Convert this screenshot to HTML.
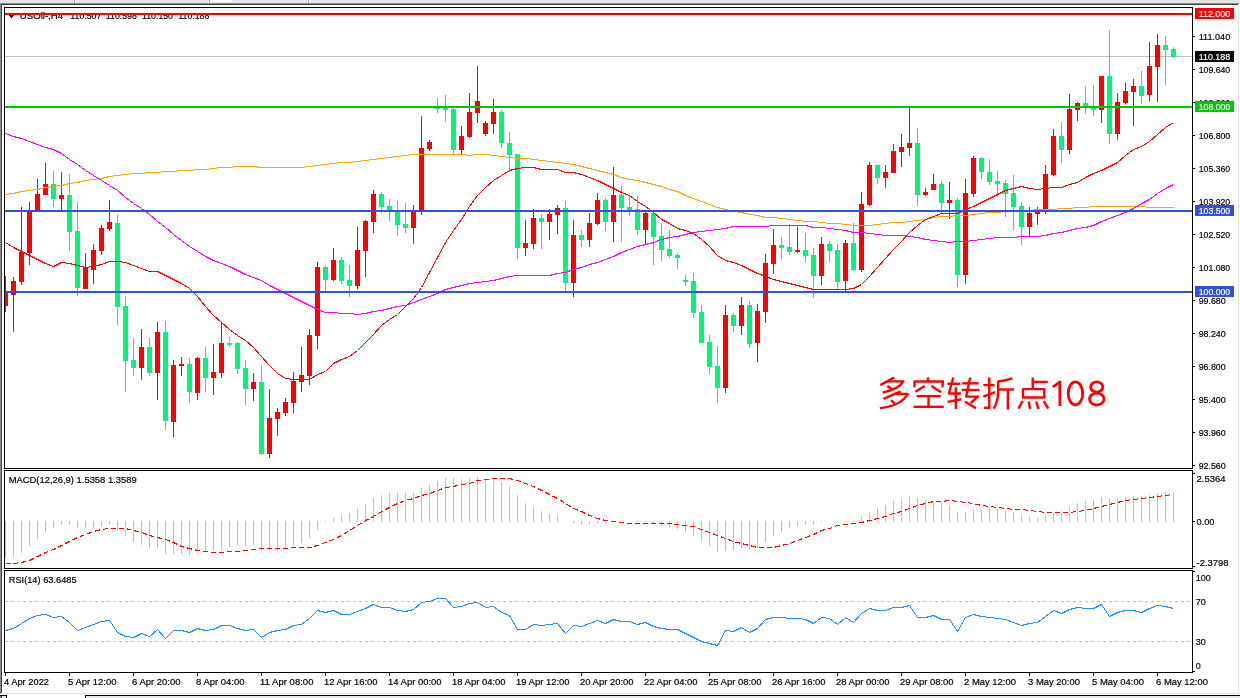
<!DOCTYPE html><html><head><meta charset="utf-8"><title>USOil H4</title>
<style>html,body{margin:0;padding:0;background:#fff;overflow:hidden}svg{display:block;will-change:transform}text{font-family:"Liberation Sans",sans-serif}</style></head><body>
<svg width="1240" height="698" viewBox="0 0 1240 698" font-family="Liberation Sans, sans-serif">
<rect width="1240" height="698" fill="#fff"/>
<g shape-rendering="crispEdges">
<rect x="0" y="0" width="1240" height="3" fill="#e5e5e5"/>
<rect x="0" y="3" width="1239" height="1" fill="#8c8c8c"/>
<rect x="1" y="4" width="1237" height="1" fill="#404040"/>
<rect x="0" y="3" width="1" height="691" fill="#8c8c8c"/>
<rect x="1" y="4" width="1" height="689" fill="#404040"/>
<rect x="1238" y="5" width="1" height="689" fill="#e4e4e4"/>
<rect x="2" y="693" width="1237" height="1" fill="#e4e4e4"/>
<rect x="85" y="696" width="1155" height="2" fill="#e8e8e8"/>
<rect x="85" y="695" width="1155" height="1" fill="#000"/>
<rect x="85" y="695" width="1" height="3" fill="#000"/>
<rect x="0" y="695" width="7" height="1" fill="#000"/>
<rect x="6" y="695" width="1" height="3" fill="#000"/>
<rect x="2" y="696" width="4" height="2" fill="#e8e8e8"/>
<rect x="0" y="696" width="1" height="2" fill="#8c8c8c"/>
<rect x="1" y="696" width="1" height="2" fill="#404040"/>
<rect x="74" y="0" width="1" height="3" fill="#a0a0a0"/>
<rect x="75" y="0" width="1" height="3" fill="#ffffff"/>
<rect x="308" y="0" width="1" height="3" fill="#a0a0a0"/>
<rect x="309" y="0" width="1" height="3" fill="#ffffff"/>
<rect x="209" y="0" width="1" height="2" fill="#a0a0a0"/>
<rect x="210" y="0" width="22" height="2" fill="#ffffff"/>
</g>
<g shape-rendering="crispEdges">
<rect x="5" y="56" width="1187" height="1" fill="#c0c0c0"/>
</g>
<g fill="#000" font-size="9.9px" stroke="#000" stroke-width="0.2">
<path d="M7.5 13.5 L15.5 13.5 L11.5 18.5 Z" fill="#000" stroke="none"/>
<text x="19.8" y="18.9" textLength="43.3" lengthAdjust="spacingAndGlyphs">USOil-,H4</text>
<text x="70.3" y="18.9" textLength="31" lengthAdjust="spacingAndGlyphs">110.507</text>
<text x="105.8" y="18.9" textLength="31" lengthAdjust="spacingAndGlyphs">110.598</text>
<text x="142" y="18.9" textLength="31" lengthAdjust="spacingAndGlyphs">110.150</text>
<text x="178.3" y="18.9" textLength="31" lengthAdjust="spacingAndGlyphs">110.188</text>
</g>
<g shape-rendering="crispEdges">
<rect x="5" y="276" width="1" height="36" fill="#FF0000"/>
<rect x="5" y="293" width="3" height="13" fill="#FF0000"/>
<rect x="13" y="277" width="1" height="55" fill="#FF0000"/>
<rect x="11" y="281" width="5" height="14" fill="#FF0000"/>
<rect x="21" y="207" width="1" height="78" fill="#FF0000"/>
<rect x="19" y="252" width="5" height="30" fill="#FF0000"/>
<rect x="29" y="202" width="1" height="63" fill="#FF0000"/>
<rect x="27" y="211" width="5" height="42" fill="#FF0000"/>
<rect x="37" y="179" width="1" height="32" fill="#FF0000"/>
<rect x="35" y="194" width="5" height="17" fill="#FF0000"/>
<rect x="45" y="163" width="1" height="32" fill="#FF0000"/>
<rect x="43" y="184" width="5" height="11" fill="#FF0000"/>
<rect x="53" y="171" width="1" height="36" fill="#00F57A"/>
<rect x="51" y="184" width="5" height="15" fill="#00F57A"/>
<rect x="61" y="172" width="1" height="39" fill="#FF0000"/>
<rect x="59" y="195" width="5" height="4" fill="#FF0000"/>
<rect x="69" y="174" width="1" height="77" fill="#00F57A"/>
<rect x="67" y="195" width="5" height="37" fill="#00F57A"/>
<rect x="77" y="202" width="1" height="94" fill="#00F57A"/>
<rect x="75" y="231" width="5" height="57" fill="#00F57A"/>
<rect x="85" y="253" width="1" height="36" fill="#FF0000"/>
<rect x="83" y="268" width="5" height="21" fill="#FF0000"/>
<rect x="93" y="244" width="1" height="40" fill="#FF0000"/>
<rect x="91" y="250" width="5" height="20" fill="#FF0000"/>
<rect x="101" y="225" width="1" height="30" fill="#FF0000"/>
<rect x="99" y="228" width="5" height="23" fill="#FF0000"/>
<rect x="109" y="200" width="1" height="31" fill="#FF0000"/>
<rect x="107" y="222" width="5" height="7" fill="#FF0000"/>
<rect x="117" y="215" width="1" height="110" fill="#00F57A"/>
<rect x="115" y="223" width="5" height="84" fill="#00F57A"/>
<rect x="125" y="296" width="1" height="96" fill="#00F57A"/>
<rect x="123" y="306" width="5" height="55" fill="#00F57A"/>
<rect x="133" y="338" width="1" height="38" fill="#00F57A"/>
<rect x="131" y="360" width="5" height="8" fill="#00F57A"/>
<rect x="141" y="329" width="1" height="51" fill="#FF0000"/>
<rect x="139" y="347" width="5" height="21" fill="#FF0000"/>
<rect x="149" y="338" width="1" height="38" fill="#00F57A"/>
<rect x="147" y="347" width="5" height="26" fill="#00F57A"/>
<rect x="157" y="322" width="1" height="78" fill="#FF0000"/>
<rect x="155" y="332" width="5" height="41" fill="#FF0000"/>
<rect x="165" y="321" width="1" height="109" fill="#00F57A"/>
<rect x="163" y="332" width="5" height="89" fill="#00F57A"/>
<rect x="173" y="360" width="1" height="77" fill="#FF0000"/>
<rect x="171" y="365" width="5" height="57" fill="#FF0000"/>
<rect x="181" y="357" width="1" height="19" fill="#FF0000"/>
<rect x="179" y="364" width="5" height="2" fill="#FF0000"/>
<rect x="189" y="358" width="1" height="45" fill="#00F57A"/>
<rect x="187" y="364" width="5" height="28" fill="#00F57A"/>
<rect x="197" y="357" width="1" height="43" fill="#FF0000"/>
<rect x="195" y="358" width="5" height="35" fill="#FF0000"/>
<rect x="205" y="347" width="1" height="45" fill="#00F57A"/>
<rect x="203" y="358" width="5" height="20" fill="#00F57A"/>
<rect x="213" y="344" width="1" height="51" fill="#FF0000"/>
<rect x="211" y="372" width="5" height="6" fill="#FF0000"/>
<rect x="221" y="323" width="1" height="55" fill="#FF0000"/>
<rect x="219" y="343" width="5" height="30" fill="#FF0000"/>
<rect x="229" y="337" width="1" height="10" fill="#00F57A"/>
<rect x="227" y="343" width="5" height="2" fill="#00F57A"/>
<rect x="237" y="342" width="1" height="32" fill="#00F57A"/>
<rect x="235" y="343" width="5" height="26" fill="#00F57A"/>
<rect x="245" y="360" width="1" height="45" fill="#00F57A"/>
<rect x="243" y="368" width="5" height="21" fill="#00F57A"/>
<rect x="253" y="373" width="1" height="28" fill="#FF0000"/>
<rect x="251" y="382" width="5" height="7" fill="#FF0000"/>
<rect x="261" y="365" width="1" height="90" fill="#00F57A"/>
<rect x="259" y="382" width="5" height="72" fill="#00F57A"/>
<rect x="269" y="389" width="1" height="69" fill="#FF0000"/>
<rect x="267" y="418" width="5" height="36" fill="#FF0000"/>
<rect x="277" y="408" width="1" height="28" fill="#FF0000"/>
<rect x="275" y="412" width="5" height="7" fill="#FF0000"/>
<rect x="285" y="398" width="1" height="18" fill="#FF0000"/>
<rect x="283" y="402" width="5" height="11" fill="#FF0000"/>
<rect x="293" y="372" width="1" height="41" fill="#FF0000"/>
<rect x="291" y="381" width="5" height="22" fill="#FF0000"/>
<rect x="301" y="347" width="1" height="45" fill="#FF0000"/>
<rect x="299" y="375" width="5" height="7" fill="#FF0000"/>
<rect x="309" y="329" width="1" height="56" fill="#FF0000"/>
<rect x="307" y="335" width="5" height="41" fill="#FF0000"/>
<rect x="317" y="262" width="1" height="87" fill="#FF0000"/>
<rect x="315" y="267" width="5" height="69" fill="#FF0000"/>
<rect x="325" y="265" width="1" height="26" fill="#00F57A"/>
<rect x="323" y="267" width="5" height="13" fill="#00F57A"/>
<rect x="333" y="248" width="1" height="33" fill="#FF0000"/>
<rect x="331" y="260" width="5" height="20" fill="#FF0000"/>
<rect x="341" y="257" width="1" height="27" fill="#00F57A"/>
<rect x="339" y="260" width="5" height="21" fill="#00F57A"/>
<rect x="349" y="265" width="1" height="32" fill="#00F57A"/>
<rect x="347" y="280" width="5" height="6" fill="#00F57A"/>
<rect x="357" y="227" width="1" height="62" fill="#FF0000"/>
<rect x="355" y="250" width="5" height="36" fill="#FF0000"/>
<rect x="365" y="220" width="1" height="57" fill="#FF0000"/>
<rect x="363" y="221" width="5" height="30" fill="#FF0000"/>
<rect x="373" y="190" width="1" height="43" fill="#FF0000"/>
<rect x="371" y="194" width="5" height="28" fill="#FF0000"/>
<rect x="381" y="192" width="1" height="21" fill="#00F57A"/>
<rect x="379" y="194" width="5" height="13" fill="#00F57A"/>
<rect x="389" y="199" width="1" height="22" fill="#00F57A"/>
<rect x="387" y="206" width="5" height="4" fill="#00F57A"/>
<rect x="397" y="201" width="1" height="35" fill="#00F57A"/>
<rect x="395" y="212" width="5" height="13" fill="#00F57A"/>
<rect x="405" y="203" width="1" height="30" fill="#00F57A"/>
<rect x="403" y="224" width="5" height="4" fill="#00F57A"/>
<rect x="413" y="205" width="1" height="39" fill="#FF0000"/>
<rect x="411" y="211" width="5" height="17" fill="#FF0000"/>
<rect x="421" y="116" width="1" height="99" fill="#FF0000"/>
<rect x="419" y="148" width="5" height="62" fill="#FF0000"/>
<rect x="429" y="140" width="1" height="11" fill="#FF0000"/>
<rect x="427" y="142" width="5" height="7" fill="#FF0000"/>
<rect x="437" y="98" width="1" height="15" fill="#00F57A"/>
<rect x="435" y="107" width="5" height="2" fill="#00F57A"/>
<rect x="445" y="95" width="1" height="27" fill="#00F57A"/>
<rect x="443" y="107" width="5" height="3" fill="#00F57A"/>
<rect x="453" y="106" width="1" height="48" fill="#00F57A"/>
<rect x="451" y="109" width="5" height="41" fill="#00F57A"/>
<rect x="461" y="126" width="1" height="28" fill="#FF0000"/>
<rect x="459" y="136" width="5" height="14" fill="#FF0000"/>
<rect x="469" y="93" width="1" height="45" fill="#FF0000"/>
<rect x="467" y="112" width="5" height="25" fill="#FF0000"/>
<rect x="477" y="66" width="1" height="57" fill="#FF0000"/>
<rect x="475" y="101" width="5" height="12" fill="#FF0000"/>
<rect x="485" y="121" width="1" height="15" fill="#FF0000"/>
<rect x="483" y="123" width="5" height="11" fill="#FF0000"/>
<rect x="493" y="99" width="1" height="35" fill="#FF0000"/>
<rect x="491" y="112" width="5" height="12" fill="#FF0000"/>
<rect x="501" y="110" width="1" height="38" fill="#00F57A"/>
<rect x="499" y="112" width="5" height="31" fill="#00F57A"/>
<rect x="509" y="132" width="1" height="40" fill="#00F57A"/>
<rect x="507" y="143" width="5" height="12" fill="#00F57A"/>
<rect x="517" y="154" width="1" height="105" fill="#00F57A"/>
<rect x="515" y="154" width="5" height="94" fill="#00F57A"/>
<rect x="525" y="220" width="1" height="36" fill="#FF0000"/>
<rect x="523" y="243" width="5" height="5" fill="#FF0000"/>
<rect x="533" y="209" width="1" height="40" fill="#FF0000"/>
<rect x="531" y="218" width="5" height="26" fill="#FF0000"/>
<rect x="541" y="214" width="1" height="35" fill="#00F57A"/>
<rect x="539" y="218" width="5" height="4" fill="#00F57A"/>
<rect x="549" y="209" width="1" height="31" fill="#FF0000"/>
<rect x="547" y="214" width="5" height="8" fill="#FF0000"/>
<rect x="557" y="205" width="1" height="29" fill="#FF0000"/>
<rect x="555" y="208" width="5" height="7" fill="#FF0000"/>
<rect x="565" y="201" width="1" height="90" fill="#00F57A"/>
<rect x="563" y="208" width="5" height="75" fill="#00F57A"/>
<rect x="573" y="220" width="1" height="77" fill="#FF0000"/>
<rect x="571" y="235" width="5" height="48" fill="#FF0000"/>
<rect x="581" y="230" width="1" height="17" fill="#00F57A"/>
<rect x="579" y="235" width="5" height="5" fill="#00F57A"/>
<rect x="589" y="213" width="1" height="34" fill="#FF0000"/>
<rect x="587" y="223" width="5" height="17" fill="#FF0000"/>
<rect x="597" y="193" width="1" height="32" fill="#FF0000"/>
<rect x="595" y="200" width="5" height="24" fill="#FF0000"/>
<rect x="605" y="198" width="1" height="33" fill="#00F57A"/>
<rect x="603" y="200" width="5" height="22" fill="#00F57A"/>
<rect x="613" y="167" width="1" height="75" fill="#FF0000"/>
<rect x="611" y="195" width="5" height="27" fill="#FF0000"/>
<rect x="621" y="186" width="1" height="56" fill="#00F57A"/>
<rect x="619" y="195" width="5" height="13" fill="#00F57A"/>
<rect x="629" y="195" width="1" height="21" fill="#00F57A"/>
<rect x="627" y="207" width="5" height="4" fill="#00F57A"/>
<rect x="637" y="196" width="1" height="39" fill="#00F57A"/>
<rect x="635" y="209" width="5" height="21" fill="#00F57A"/>
<rect x="645" y="211" width="1" height="33" fill="#FF0000"/>
<rect x="643" y="213" width="5" height="17" fill="#FF0000"/>
<rect x="653" y="211" width="1" height="54" fill="#00F57A"/>
<rect x="651" y="213" width="5" height="24" fill="#00F57A"/>
<rect x="661" y="223" width="1" height="38" fill="#00F57A"/>
<rect x="659" y="236" width="5" height="14" fill="#00F57A"/>
<rect x="669" y="230" width="1" height="28" fill="#00F57A"/>
<rect x="667" y="249" width="5" height="7" fill="#00F57A"/>
<rect x="677" y="253" width="1" height="16" fill="#00F57A"/>
<rect x="675" y="255" width="5" height="3" fill="#00F57A"/>
<rect x="685" y="275" width="1" height="11" fill="#00F57A"/>
<rect x="683" y="280" width="5" height="2" fill="#00F57A"/>
<rect x="693" y="273" width="1" height="45" fill="#00F57A"/>
<rect x="691" y="281" width="5" height="32" fill="#00F57A"/>
<rect x="701" y="305" width="1" height="38" fill="#00F57A"/>
<rect x="699" y="312" width="5" height="31" fill="#00F57A"/>
<rect x="709" y="335" width="1" height="39" fill="#00F57A"/>
<rect x="707" y="342" width="5" height="25" fill="#00F57A"/>
<rect x="717" y="346" width="1" height="57" fill="#00F57A"/>
<rect x="715" y="366" width="5" height="22" fill="#00F57A"/>
<rect x="725" y="305" width="1" height="88" fill="#FF0000"/>
<rect x="723" y="315" width="5" height="73" fill="#FF0000"/>
<rect x="733" y="313" width="1" height="19" fill="#00F57A"/>
<rect x="731" y="315" width="5" height="11" fill="#00F57A"/>
<rect x="741" y="297" width="1" height="38" fill="#FF0000"/>
<rect x="739" y="305" width="5" height="21" fill="#FF0000"/>
<rect x="749" y="301" width="1" height="47" fill="#00F57A"/>
<rect x="747" y="305" width="5" height="39" fill="#00F57A"/>
<rect x="757" y="304" width="1" height="58" fill="#FF0000"/>
<rect x="755" y="311" width="5" height="32" fill="#FF0000"/>
<rect x="765" y="254" width="1" height="69" fill="#FF0000"/>
<rect x="763" y="263" width="5" height="49" fill="#FF0000"/>
<rect x="773" y="229" width="1" height="45" fill="#FF0000"/>
<rect x="771" y="245" width="5" height="19" fill="#FF0000"/>
<rect x="781" y="237" width="1" height="22" fill="#00F57A"/>
<rect x="779" y="245" width="5" height="3" fill="#00F57A"/>
<rect x="789" y="224" width="1" height="31" fill="#00F57A"/>
<rect x="787" y="247" width="5" height="5" fill="#00F57A"/>
<rect x="797" y="227" width="1" height="26" fill="#FF0000"/>
<rect x="795" y="250" width="5" height="2" fill="#FF0000"/>
<rect x="805" y="233" width="1" height="29" fill="#00F57A"/>
<rect x="803" y="250" width="5" height="6" fill="#00F57A"/>
<rect x="813" y="248" width="1" height="50" fill="#00F57A"/>
<rect x="811" y="255" width="5" height="21" fill="#00F57A"/>
<rect x="821" y="237" width="1" height="48" fill="#FF0000"/>
<rect x="819" y="244" width="5" height="32" fill="#FF0000"/>
<rect x="829" y="241" width="1" height="21" fill="#00F57A"/>
<rect x="827" y="244" width="5" height="7" fill="#00F57A"/>
<rect x="837" y="244" width="1" height="46" fill="#00F57A"/>
<rect x="835" y="250" width="5" height="32" fill="#00F57A"/>
<rect x="845" y="240" width="1" height="52" fill="#FF0000"/>
<rect x="843" y="243" width="5" height="38" fill="#FF0000"/>
<rect x="853" y="223" width="1" height="48" fill="#00F57A"/>
<rect x="851" y="243" width="5" height="27" fill="#00F57A"/>
<rect x="861" y="192" width="1" height="80" fill="#FF0000"/>
<rect x="859" y="204" width="5" height="66" fill="#FF0000"/>
<rect x="869" y="162" width="1" height="44" fill="#FF0000"/>
<rect x="867" y="165" width="5" height="40" fill="#FF0000"/>
<rect x="877" y="165" width="1" height="19" fill="#00F57A"/>
<rect x="875" y="165" width="5" height="13" fill="#00F57A"/>
<rect x="885" y="165" width="1" height="23" fill="#FF0000"/>
<rect x="883" y="172" width="5" height="6" fill="#FF0000"/>
<rect x="893" y="144" width="1" height="29" fill="#FF0000"/>
<rect x="891" y="151" width="5" height="22" fill="#FF0000"/>
<rect x="901" y="134" width="1" height="33" fill="#FF0000"/>
<rect x="899" y="147" width="5" height="5" fill="#FF0000"/>
<rect x="909" y="107" width="1" height="49" fill="#FF0000"/>
<rect x="907" y="143" width="5" height="5" fill="#FF0000"/>
<rect x="917" y="128" width="1" height="78" fill="#00F57A"/>
<rect x="915" y="143" width="5" height="52" fill="#00F57A"/>
<rect x="925" y="188" width="1" height="8" fill="#FF0000"/>
<rect x="923" y="192" width="5" height="3" fill="#FF0000"/>
<rect x="933" y="174" width="1" height="16" fill="#FF0000"/>
<rect x="931" y="184" width="5" height="6" fill="#FF0000"/>
<rect x="941" y="181" width="1" height="33" fill="#00F57A"/>
<rect x="939" y="184" width="5" height="19" fill="#00F57A"/>
<rect x="949" y="182" width="1" height="37" fill="#FF0000"/>
<rect x="947" y="200" width="5" height="3" fill="#FF0000"/>
<rect x="957" y="198" width="1" height="89" fill="#00F57A"/>
<rect x="955" y="200" width="5" height="75" fill="#00F57A"/>
<rect x="965" y="179" width="1" height="105" fill="#FF0000"/>
<rect x="963" y="193" width="5" height="82" fill="#FF0000"/>
<rect x="973" y="156" width="1" height="41" fill="#FF0000"/>
<rect x="971" y="158" width="5" height="36" fill="#FF0000"/>
<rect x="981" y="157" width="1" height="22" fill="#00F57A"/>
<rect x="979" y="158" width="5" height="14" fill="#00F57A"/>
<rect x="989" y="159" width="1" height="26" fill="#00F57A"/>
<rect x="987" y="172" width="5" height="10" fill="#00F57A"/>
<rect x="997" y="171" width="1" height="26" fill="#00F57A"/>
<rect x="995" y="181" width="5" height="3" fill="#00F57A"/>
<rect x="1005" y="180" width="1" height="37" fill="#00F57A"/>
<rect x="1003" y="183" width="5" height="11" fill="#00F57A"/>
<rect x="1013" y="175" width="1" height="55" fill="#00F57A"/>
<rect x="1011" y="193" width="5" height="14" fill="#00F57A"/>
<rect x="1021" y="202" width="1" height="43" fill="#00F57A"/>
<rect x="1019" y="206" width="5" height="21" fill="#00F57A"/>
<rect x="1029" y="207" width="1" height="29" fill="#FF0000"/>
<rect x="1027" y="213" width="5" height="14" fill="#FF0000"/>
<rect x="1037" y="207" width="1" height="18" fill="#FF0000"/>
<rect x="1035" y="212" width="5" height="2" fill="#FF0000"/>
<rect x="1045" y="165" width="1" height="49" fill="#FF0000"/>
<rect x="1043" y="174" width="5" height="37" fill="#FF0000"/>
<rect x="1053" y="129" width="1" height="47" fill="#FF0000"/>
<rect x="1051" y="136" width="5" height="39" fill="#FF0000"/>
<rect x="1061" y="122" width="1" height="41" fill="#00F57A"/>
<rect x="1059" y="136" width="5" height="14" fill="#00F57A"/>
<rect x="1069" y="94" width="1" height="60" fill="#FF0000"/>
<rect x="1067" y="109" width="5" height="41" fill="#FF0000"/>
<rect x="1077" y="102" width="1" height="19" fill="#FF0000"/>
<rect x="1075" y="103" width="5" height="7" fill="#FF0000"/>
<rect x="1085" y="86" width="1" height="28" fill="#00F57A"/>
<rect x="1083" y="103" width="5" height="4" fill="#00F57A"/>
<rect x="1093" y="85" width="1" height="31" fill="#00F57A"/>
<rect x="1091" y="107" width="5" height="3" fill="#00F57A"/>
<rect x="1101" y="76" width="1" height="47" fill="#FF0000"/>
<rect x="1099" y="76" width="5" height="34" fill="#FF0000"/>
<rect x="1109" y="30" width="1" height="114" fill="#00F57A"/>
<rect x="1107" y="76" width="5" height="58" fill="#00F57A"/>
<rect x="1117" y="93" width="1" height="47" fill="#FF0000"/>
<rect x="1115" y="102" width="5" height="32" fill="#FF0000"/>
<rect x="1125" y="83" width="1" height="21" fill="#FF0000"/>
<rect x="1123" y="91" width="5" height="12" fill="#FF0000"/>
<rect x="1133" y="79" width="1" height="47" fill="#FF0000"/>
<rect x="1131" y="86" width="5" height="6" fill="#FF0000"/>
<rect x="1141" y="71" width="1" height="33" fill="#00F57A"/>
<rect x="1139" y="86" width="5" height="10" fill="#00F57A"/>
<rect x="1149" y="42" width="1" height="59" fill="#FF0000"/>
<rect x="1147" y="66" width="5" height="29" fill="#FF0000"/>
<rect x="1157" y="34" width="1" height="68" fill="#FF0000"/>
<rect x="1155" y="45" width="5" height="22" fill="#FF0000"/>
<rect x="1165" y="36" width="1" height="49" fill="#00F57A"/>
<rect x="1163" y="45" width="5" height="5" fill="#00F57A"/>
<rect x="1173" y="47" width="1" height="11" fill="#00F57A"/>
<rect x="1171" y="49" width="5" height="8" fill="#00F57A"/>
</g>
<g shape-rendering="crispEdges">
<polyline points="5.5,194.5 13.5,193.5 21.5,191.5 29.5,190.5 37.5,189.5 45.5,187.5 53.5,186.5 61.5,185.5 69.5,183.5 77.5,182.5 85.5,180.5 93.5,179.5 101.5,178.5 109.5,176.5 117.5,175.5 125.5,174.5 133.5,173.5 141.5,173.5 149.5,172.5 157.5,172.5 165.5,171.5 173.5,171.5 181.5,170.5 189.5,170.5 197.5,169.5 205.5,169.5 213.5,168.5 221.5,167.5 229.5,167.5 237.5,166.5 245.5,166.5 253.5,166.5 261.5,167.5 269.5,167.5 277.5,167.5 285.5,167.5 293.5,167.5 301.5,167.5 309.5,166.5 317.5,165.5 325.5,164.5 333.5,163.5 341.5,162.5 349.5,162.5 357.5,161.5 365.5,160.5 373.5,159.5 381.5,158.5 389.5,157.5 397.5,156.5 405.5,155.5 413.5,154.5 421.5,154.5 429.5,154.5 437.5,154.5 445.5,154.5 453.5,154.5 461.5,154.5 469.5,155.5 477.5,154.5 485.5,154.5 493.5,155.5 501.5,156.5 509.5,157.5 517.5,158.5 525.5,158.5 533.5,159.5 541.5,160.5 549.5,161.5 557.5,162.5 565.5,163.5 573.5,164.5 581.5,166.5 589.5,168.5 597.5,170.5 605.5,172.5 613.5,174.5 621.5,177.5 629.5,179.5 637.5,180.5 645.5,182.5 653.5,184.5 661.5,186.5 669.5,189.5 677.5,191.5 685.5,195.5 693.5,198.5 701.5,201.5 709.5,204.5 717.5,207.5 725.5,209.5 733.5,211.5 741.5,212.5 749.5,214.5 757.5,215.5 765.5,217.5 773.5,217.5 781.5,218.5 789.5,219.5 797.5,220.5 805.5,221.5 813.5,221.5 821.5,222.5 829.5,223.5 837.5,223.5 845.5,224.5 853.5,225.5 861.5,225.5 869.5,225.5 877.5,224.5 885.5,223.5 893.5,222.5 901.5,222.5 909.5,221.5 917.5,220.5 925.5,219.5 933.5,217.5 941.5,216.5 949.5,216.5 957.5,215.5 965.5,215.5 973.5,214.5 981.5,213.5 989.5,212.5 997.5,212.5 1005.5,211.5 1013.5,211.5 1021.5,210.5 1029.5,210.5 1037.5,209.5 1045.5,209.5 1053.5,209.5 1061.5,208.5 1069.5,208.5 1077.5,207.5 1085.5,207.5 1093.5,206.5 1101.5,206.5 1109.5,206.5 1117.5,206.5 1125.5,206.5 1133.5,206.5 1141.5,206.5 1149.5,207.5 1157.5,207.5 1165.5,207.5 1173.5,207.5" fill="none" stroke="#FFA500" stroke-width="1" />
<polyline points="5.5,133.5 13.5,136.5 21.5,138.5 29.5,141.5 37.5,144.5 45.5,147.5 53.5,149.5 61.5,153.5 69.5,159.5 77.5,164.5 85.5,170.5 93.5,175.5 101.5,180.5 109.5,185.5 117.5,190.5 125.5,197.5 133.5,203.5 141.5,208.5 149.5,214.5 157.5,221.5 165.5,227.5 173.5,234.5 181.5,240.5 189.5,246.5 197.5,251.5 205.5,256.5 213.5,260.5 221.5,263.5 229.5,266.5 237.5,270.5 245.5,274.5 253.5,277.5 261.5,280.5 269.5,285.5 277.5,289.5 285.5,293.5 293.5,297.5 301.5,301.5 309.5,305.5 317.5,309.5 325.5,312.5 333.5,312.5 341.5,313.5 349.5,313.5 357.5,314.5 365.5,313.5 373.5,311.5 381.5,310.5 389.5,308.5 397.5,306.5 405.5,305.5 413.5,302.5 421.5,299.5 429.5,296.5 437.5,293.5 445.5,289.5 453.5,287.5 461.5,285.5 469.5,283.5 477.5,282.5 485.5,281.5 493.5,280.5 501.5,278.5 509.5,276.5 517.5,275.5 525.5,275.5 533.5,275.5 541.5,275.5 549.5,275.5 557.5,273.5 565.5,272.5 573.5,269.5 581.5,267.5 589.5,264.5 597.5,262.5 605.5,259.5 613.5,256.5 621.5,252.5 629.5,249.5 637.5,246.5 645.5,244.5 653.5,242.5 661.5,239.5 669.5,237.5 677.5,236.5 685.5,234.5 693.5,232.5 701.5,231.5 709.5,230.5 717.5,229.5 725.5,228.5 733.5,226.5 741.5,226.5 749.5,226.5 757.5,226.5 765.5,226.5 773.5,225.5 781.5,225.5 789.5,225.5 797.5,225.5 805.5,225.5 813.5,227.5 821.5,227.5 829.5,228.5 837.5,229.5 845.5,230.5 853.5,232.5 861.5,232.5 869.5,233.5 877.5,234.5 885.5,235.5 893.5,235.5 901.5,235.5 909.5,236.5 917.5,237.5 925.5,239.5 933.5,240.5 941.5,241.5 949.5,242.5 957.5,241.5 965.5,241.5 973.5,240.5 981.5,239.5 989.5,238.5 997.5,237.5 1005.5,237.5 1013.5,237.5 1021.5,236.5 1029.5,236.5 1037.5,236.5 1045.5,235.5 1053.5,233.5 1061.5,232.5 1069.5,230.5 1077.5,228.5 1085.5,227.5 1093.5,225.5 1101.5,221.5 1109.5,218.5 1117.5,215.5 1125.5,212.5 1133.5,208.5 1141.5,203.5 1149.5,199.5 1157.5,193.5 1165.5,188.5 1173.5,184.5" fill="none" stroke="#FF00FF" stroke-width="1" />
<polyline points="5.5,242.5 13.5,247.5 21.5,251.5 29.5,255.5 37.5,259.5 45.5,263.5 53.5,266.5 61.5,262.5 69.5,263.5 77.5,265.5 85.5,267.5 93.5,266.5 101.5,264.5 109.5,261.5 117.5,261.5 125.5,262.5 133.5,265.5 141.5,268.5 149.5,271.5 157.5,271.5 165.5,275.5 173.5,279.5 181.5,283.5 189.5,288.5 197.5,296.5 205.5,306.5 213.5,315.5 221.5,322.5 229.5,329.5 237.5,335.5 245.5,340.5 253.5,347.5 261.5,356.5 269.5,365.5 277.5,373.5 285.5,378.5 293.5,379.5 301.5,379.5 309.5,379.5 317.5,374.5 325.5,371.5 333.5,363.5 341.5,359.5 349.5,356.5 357.5,350.5 365.5,342.5 373.5,334.5 381.5,325.5 389.5,319.5 397.5,314.5 405.5,306.5 413.5,298.5 421.5,287.5 429.5,272.5 437.5,257.5 445.5,242.5 453.5,230.5 461.5,219.5 469.5,206.5 477.5,195.5 485.5,187.5 493.5,180.5 501.5,175.5 509.5,170.5 517.5,168.5 525.5,167.5 533.5,167.5 541.5,169.5 549.5,169.5 557.5,169.5 565.5,172.5 573.5,172.5 581.5,174.5 589.5,177.5 597.5,180.5 605.5,184.5 613.5,188.5 621.5,192.5 629.5,195.5 637.5,201.5 645.5,206.5 653.5,212.5 661.5,219.5 669.5,223.5 677.5,228.5 685.5,230.5 693.5,233.5 701.5,239.5 709.5,246.5 717.5,255.5 725.5,260.5 733.5,262.5 741.5,265.5 749.5,269.5 757.5,273.5 765.5,276.5 773.5,279.5 781.5,281.5 789.5,283.5 797.5,285.5 805.5,287.5 813.5,289.5 821.5,289.5 829.5,289.5 837.5,289.5 845.5,289.5 853.5,288.5 861.5,284.5 869.5,276.5 877.5,267.5 885.5,258.5 893.5,249.5 901.5,241.5 909.5,232.5 917.5,225.5 925.5,219.5 933.5,216.5 941.5,213.5 949.5,213.5 957.5,213.5 965.5,209.5 973.5,206.5 981.5,202.5 989.5,198.5 997.5,194.5 1005.5,190.5 1013.5,188.5 1021.5,186.5 1029.5,188.5 1037.5,189.5 1045.5,188.5 1053.5,187.5 1061.5,187.5 1069.5,184.5 1077.5,182.5 1085.5,177.5 1093.5,173.5 1101.5,170.5 1109.5,166.5 1117.5,162.5 1125.5,155.5 1133.5,149.5 1141.5,146.5 1149.5,141.5 1157.5,134.5 1165.5,127.5 1173.5,122.5" fill="none" stroke="#FF0000" stroke-width="1" />
<rect x="4" y="13" width="1188" height="2" fill="#FF0000"/>
<rect x="4" y="106" width="1188" height="2" fill="#00C800"/>
<rect x="4" y="210" width="1188" height="2" fill="#3350DE"/>
<rect x="4" y="291" width="1188" height="2" fill="#3350DE"/>
</g>
<g shape-rendering="crispEdges">
<rect x="5" y="521" width="1" height="36" fill="#c0c0c0"/>
<rect x="13" y="521" width="1" height="36" fill="#c0c0c0"/>
<rect x="21" y="521" width="1" height="32" fill="#c0c0c0"/>
<rect x="29" y="521" width="1" height="25" fill="#c0c0c0"/>
<rect x="37" y="521" width="1" height="18" fill="#c0c0c0"/>
<rect x="45" y="521" width="1" height="11" fill="#c0c0c0"/>
<rect x="53" y="521" width="1" height="7" fill="#c0c0c0"/>
<rect x="61" y="521" width="1" height="3" fill="#c0c0c0"/>
<rect x="69" y="521" width="1" height="3" fill="#c0c0c0"/>
<rect x="77" y="521" width="1" height="7" fill="#c0c0c0"/>
<rect x="85" y="521" width="1" height="7" fill="#c0c0c0"/>
<rect x="93" y="521" width="1" height="7" fill="#c0c0c0"/>
<rect x="101" y="521" width="1" height="5" fill="#c0c0c0"/>
<rect x="109" y="521" width="1" height="3" fill="#c0c0c0"/>
<rect x="117" y="521" width="1" height="9" fill="#c0c0c0"/>
<rect x="125" y="521" width="1" height="15" fill="#c0c0c0"/>
<rect x="133" y="521" width="1" height="21" fill="#c0c0c0"/>
<rect x="141" y="521" width="1" height="24" fill="#c0c0c0"/>
<rect x="149" y="521" width="1" height="27" fill="#c0c0c0"/>
<rect x="157" y="521" width="1" height="27" fill="#c0c0c0"/>
<rect x="165" y="521" width="1" height="33" fill="#c0c0c0"/>
<rect x="173" y="521" width="1" height="33" fill="#c0c0c0"/>
<rect x="181" y="521" width="1" height="33" fill="#c0c0c0"/>
<rect x="189" y="521" width="1" height="34" fill="#c0c0c0"/>
<rect x="197" y="521" width="1" height="32" fill="#c0c0c0"/>
<rect x="205" y="521" width="1" height="30" fill="#c0c0c0"/>
<rect x="213" y="521" width="1" height="29" fill="#c0c0c0"/>
<rect x="221" y="521" width="1" height="28" fill="#c0c0c0"/>
<rect x="229" y="521" width="1" height="26" fill="#c0c0c0"/>
<rect x="237" y="521" width="1" height="24" fill="#c0c0c0"/>
<rect x="245" y="521" width="1" height="25" fill="#c0c0c0"/>
<rect x="253" y="521" width="1" height="24" fill="#c0c0c0"/>
<rect x="261" y="521" width="1" height="29" fill="#c0c0c0"/>
<rect x="269" y="521" width="1" height="29" fill="#c0c0c0"/>
<rect x="277" y="521" width="1" height="29" fill="#c0c0c0"/>
<rect x="285" y="521" width="1" height="28" fill="#c0c0c0"/>
<rect x="293" y="521" width="1" height="25" fill="#c0c0c0"/>
<rect x="301" y="521" width="1" height="22" fill="#c0c0c0"/>
<rect x="309" y="521" width="1" height="17" fill="#c0c0c0"/>
<rect x="317" y="521" width="1" height="9" fill="#c0c0c0"/>
<rect x="325" y="521" width="1" height="1" fill="#c0c0c0"/>
<rect x="333" y="518" width="1" height="4" fill="#c0c0c0"/>
<rect x="341" y="515" width="1" height="7" fill="#c0c0c0"/>
<rect x="349" y="513" width="1" height="9" fill="#c0c0c0"/>
<rect x="357" y="509" width="1" height="13" fill="#c0c0c0"/>
<rect x="365" y="504" width="1" height="18" fill="#c0c0c0"/>
<rect x="373" y="498" width="1" height="24" fill="#c0c0c0"/>
<rect x="381" y="495" width="1" height="27" fill="#c0c0c0"/>
<rect x="389" y="493" width="1" height="29" fill="#c0c0c0"/>
<rect x="397" y="493" width="1" height="29" fill="#c0c0c0"/>
<rect x="405" y="493" width="1" height="29" fill="#c0c0c0"/>
<rect x="413" y="493" width="1" height="29" fill="#c0c0c0"/>
<rect x="421" y="488" width="1" height="34" fill="#c0c0c0"/>
<rect x="429" y="485" width="1" height="37" fill="#c0c0c0"/>
<rect x="437" y="481" width="1" height="41" fill="#c0c0c0"/>
<rect x="445" y="478" width="1" height="44" fill="#c0c0c0"/>
<rect x="453" y="478" width="1" height="44" fill="#c0c0c0"/>
<rect x="461" y="479" width="1" height="43" fill="#c0c0c0"/>
<rect x="469" y="478" width="1" height="44" fill="#c0c0c0"/>
<rect x="477" y="477" width="1" height="45" fill="#c0c0c0"/>
<rect x="485" y="479" width="1" height="43" fill="#c0c0c0"/>
<rect x="493" y="479" width="1" height="43" fill="#c0c0c0"/>
<rect x="501" y="482" width="1" height="40" fill="#c0c0c0"/>
<rect x="509" y="486" width="1" height="36" fill="#c0c0c0"/>
<rect x="517" y="495" width="1" height="27" fill="#c0c0c0"/>
<rect x="525" y="503" width="1" height="19" fill="#c0c0c0"/>
<rect x="533" y="507" width="1" height="15" fill="#c0c0c0"/>
<rect x="541" y="511" width="1" height="11" fill="#c0c0c0"/>
<rect x="549" y="514" width="1" height="8" fill="#c0c0c0"/>
<rect x="557" y="515" width="1" height="7" fill="#c0c0c0"/>
<rect x="573" y="521" width="1" height="2" fill="#c0c0c0"/>
<rect x="581" y="521" width="1" height="3" fill="#c0c0c0"/>
<rect x="589" y="521" width="1" height="4" fill="#c0c0c0"/>
<rect x="597" y="521" width="1" height="2" fill="#c0c0c0"/>
<rect x="605" y="521" width="1" height="3" fill="#c0c0c0"/>
<rect x="637" y="521" width="1" height="1" fill="#c0c0c0"/>
<rect x="645" y="521" width="1" height="1" fill="#c0c0c0"/>
<rect x="653" y="521" width="1" height="3" fill="#c0c0c0"/>
<rect x="661" y="521" width="1" height="5" fill="#c0c0c0"/>
<rect x="669" y="521" width="1" height="7" fill="#c0c0c0"/>
<rect x="677" y="521" width="1" height="8" fill="#c0c0c0"/>
<rect x="685" y="521" width="1" height="11" fill="#c0c0c0"/>
<rect x="693" y="521" width="1" height="15" fill="#c0c0c0"/>
<rect x="701" y="521" width="1" height="20" fill="#c0c0c0"/>
<rect x="709" y="521" width="1" height="25" fill="#c0c0c0"/>
<rect x="717" y="521" width="1" height="31" fill="#c0c0c0"/>
<rect x="725" y="521" width="1" height="30" fill="#c0c0c0"/>
<rect x="733" y="521" width="1" height="29" fill="#c0c0c0"/>
<rect x="741" y="521" width="1" height="27" fill="#c0c0c0"/>
<rect x="749" y="521" width="1" height="28" fill="#c0c0c0"/>
<rect x="757" y="521" width="1" height="27" fill="#c0c0c0"/>
<rect x="765" y="521" width="1" height="21" fill="#c0c0c0"/>
<rect x="773" y="521" width="1" height="15" fill="#c0c0c0"/>
<rect x="781" y="521" width="1" height="11" fill="#c0c0c0"/>
<rect x="789" y="521" width="1" height="7" fill="#c0c0c0"/>
<rect x="797" y="521" width="1" height="5" fill="#c0c0c0"/>
<rect x="805" y="521" width="1" height="3" fill="#c0c0c0"/>
<rect x="813" y="521" width="1" height="3" fill="#c0c0c0"/>
<rect x="821" y="521" width="1" height="1" fill="#c0c0c0"/>
<rect x="837" y="521" width="1" height="1" fill="#c0c0c0"/>
<rect x="845" y="521" width="1" height="1" fill="#c0c0c0"/>
<rect x="853" y="521" width="1" height="1" fill="#c0c0c0"/>
<rect x="861" y="517" width="1" height="5" fill="#c0c0c0"/>
<rect x="869" y="512" width="1" height="10" fill="#c0c0c0"/>
<rect x="877" y="508" width="1" height="14" fill="#c0c0c0"/>
<rect x="885" y="505" width="1" height="17" fill="#c0c0c0"/>
<rect x="893" y="501" width="1" height="21" fill="#c0c0c0"/>
<rect x="901" y="499" width="1" height="23" fill="#c0c0c0"/>
<rect x="909" y="496" width="1" height="26" fill="#c0c0c0"/>
<rect x="917" y="498" width="1" height="24" fill="#c0c0c0"/>
<rect x="925" y="500" width="1" height="22" fill="#c0c0c0"/>
<rect x="933" y="502" width="1" height="20" fill="#c0c0c0"/>
<rect x="941" y="503" width="1" height="19" fill="#c0c0c0"/>
<rect x="949" y="505" width="1" height="17" fill="#c0c0c0"/>
<rect x="957" y="512" width="1" height="10" fill="#c0c0c0"/>
<rect x="965" y="512" width="1" height="10" fill="#c0c0c0"/>
<rect x="973" y="509" width="1" height="13" fill="#c0c0c0"/>
<rect x="981" y="509" width="1" height="13" fill="#c0c0c0"/>
<rect x="989" y="509" width="1" height="13" fill="#c0c0c0"/>
<rect x="997" y="509" width="1" height="13" fill="#c0c0c0"/>
<rect x="1005" y="510" width="1" height="12" fill="#c0c0c0"/>
<rect x="1013" y="512" width="1" height="10" fill="#c0c0c0"/>
<rect x="1021" y="515" width="1" height="7" fill="#c0c0c0"/>
<rect x="1029" y="517" width="1" height="5" fill="#c0c0c0"/>
<rect x="1037" y="518" width="1" height="4" fill="#c0c0c0"/>
<rect x="1045" y="516" width="1" height="6" fill="#c0c0c0"/>
<rect x="1053" y="513" width="1" height="9" fill="#c0c0c0"/>
<rect x="1061" y="511" width="1" height="11" fill="#c0c0c0"/>
<rect x="1069" y="507" width="1" height="15" fill="#c0c0c0"/>
<rect x="1077" y="503" width="1" height="19" fill="#c0c0c0"/>
<rect x="1085" y="501" width="1" height="21" fill="#c0c0c0"/>
<rect x="1093" y="500" width="1" height="22" fill="#c0c0c0"/>
<rect x="1101" y="497" width="1" height="25" fill="#c0c0c0"/>
<rect x="1109" y="498" width="1" height="24" fill="#c0c0c0"/>
<rect x="1117" y="498" width="1" height="24" fill="#c0c0c0"/>
<rect x="1125" y="497" width="1" height="25" fill="#c0c0c0"/>
<rect x="1133" y="496" width="1" height="26" fill="#c0c0c0"/>
<rect x="1141" y="496" width="1" height="26" fill="#c0c0c0"/>
<rect x="1149" y="495" width="1" height="27" fill="#c0c0c0"/>
<rect x="1157" y="493" width="1" height="29" fill="#c0c0c0"/>
<rect x="1165" y="492" width="1" height="30" fill="#c0c0c0"/>
<rect x="1173" y="492" width="1" height="30" fill="#c0c0c0"/>
<polyline points="5.5,563.5 13.5,563.5 21.5,562.5 29.5,560.5 37.5,556.5 45.5,552.5 53.5,549.5 61.5,545.5 69.5,541.5 77.5,537.5 85.5,534.5 93.5,531.5 101.5,529.5 109.5,528.5 117.5,528.5 125.5,528.5 133.5,530.5 141.5,532.5 149.5,535.5 157.5,537.5 165.5,539.5 173.5,542.5 181.5,546.5 189.5,548.5 197.5,550.5 205.5,551.5 213.5,552.5 221.5,552.5 229.5,551.5 237.5,551.5 245.5,550.5 253.5,549.5 261.5,548.5 269.5,548.5 277.5,548.5 285.5,548.5 293.5,547.5 301.5,547.5 309.5,547.5 317.5,545.5 325.5,542.5 333.5,539.5 341.5,535.5 349.5,530.5 357.5,525.5 365.5,520.5 373.5,516.5 381.5,511.5 389.5,507.5 397.5,503.5 405.5,500.5 413.5,498.5 421.5,495.5 429.5,493.5 437.5,490.5 445.5,487.5 453.5,486.5 461.5,484.5 469.5,483.5 477.5,480.5 485.5,479.5 493.5,478.5 501.5,478.5 509.5,478.5 517.5,480.5 525.5,483.5 533.5,486.5 541.5,490.5 549.5,494.5 557.5,498.5 565.5,503.5 573.5,508.5 581.5,511.5 589.5,515.5 597.5,518.5 605.5,520.5 613.5,521.5 621.5,522.5 629.5,523.5 637.5,523.5 645.5,523.5 653.5,523.5 661.5,523.5 669.5,523.5 677.5,524.5 685.5,525.5 693.5,526.5 701.5,529.5 709.5,532.5 717.5,535.5 725.5,538.5 733.5,541.5 741.5,543.5 749.5,545.5 757.5,547.5 765.5,547.5 773.5,547.5 781.5,545.5 789.5,543.5 797.5,540.5 805.5,537.5 813.5,534.5 821.5,530.5 829.5,528.5 837.5,525.5 845.5,524.5 853.5,523.5 861.5,522.5 869.5,520.5 877.5,518.5 885.5,516.5 893.5,513.5 901.5,511.5 909.5,508.5 917.5,505.5 925.5,503.5 933.5,501.5 941.5,501.5 949.5,500.5 957.5,501.5 965.5,502.5 973.5,503.5 981.5,505.5 989.5,506.5 997.5,507.5 1005.5,508.5 1013.5,509.5 1021.5,509.5 1029.5,510.5 1037.5,511.5 1045.5,512.5 1053.5,512.5 1061.5,512.5 1069.5,512.5 1077.5,511.5 1085.5,510.5 1093.5,508.5 1101.5,506.5 1109.5,504.5 1117.5,502.5 1125.5,500.5 1133.5,499.5 1141.5,498.5 1149.5,497.5 1157.5,496.5 1165.5,495.5 1173.5,494.5" fill="none" stroke="#FF0000" stroke-width="1" stroke-dasharray="5 3"/>
<line x1="5" y1="601.5" x2="1192" y2="601.5" stroke="#c0c0c0" stroke-width="1" stroke-dasharray="3 3"/>
<line x1="5" y1="641.5" x2="1192" y2="641.5" stroke="#c0c0c0" stroke-width="1" stroke-dasharray="3 3"/>
<polyline points="5.5,630.5 13.5,628.5 21.5,623.5 29.5,618.5 37.5,615.5 45.5,614.5 53.5,617.5 61.5,616.5 69.5,622.5 77.5,630.5 85.5,627.5 93.5,624.5 101.5,621.5 109.5,620.5 117.5,632.5 125.5,636.5 133.5,637.5 141.5,633.5 149.5,636.5 157.5,629.5 165.5,638.5 173.5,630.5 181.5,630.5 189.5,632.5 197.5,628.5 205.5,630.5 213.5,629.5 221.5,625.5 229.5,625.5 237.5,628.5 245.5,630.5 253.5,629.5 261.5,637.5 269.5,632.5 277.5,630.5 285.5,629.5 293.5,625.5 301.5,624.5 309.5,618.5 317.5,610.5 325.5,612.5 333.5,610.5 341.5,614.5 349.5,614.5 357.5,611.5 365.5,608.5 373.5,604.5 381.5,607.5 389.5,607.5 397.5,610.5 405.5,611.5 413.5,609.5 421.5,602.5 429.5,601.5 437.5,598.5 445.5,598.5 453.5,607.5 461.5,606.5 469.5,603.5 477.5,602.5 485.5,607.5 493.5,606.5 501.5,612.5 509.5,615.5 517.5,629.5 525.5,629.5 533.5,624.5 541.5,625.5 549.5,624.5 557.5,623.5 565.5,633.5 573.5,625.5 581.5,626.5 589.5,623.5 597.5,620.5 605.5,623.5 613.5,619.5 621.5,621.5 629.5,621.5 637.5,624.5 645.5,622.5 653.5,626.5 661.5,628.5 669.5,629.5 677.5,629.5 685.5,633.5 693.5,637.5 701.5,641.5 709.5,643.5 717.5,645.5 725.5,630.5 733.5,631.5 741.5,627.5 749.5,632.5 757.5,628.5 765.5,619.5 773.5,617.5 781.5,617.5 789.5,618.5 797.5,618.5 805.5,619.5 813.5,623.5 821.5,617.5 829.5,618.5 837.5,624.5 845.5,617.5 853.5,622.5 861.5,613.5 869.5,608.5 877.5,610.5 885.5,610.5 893.5,607.5 901.5,607.5 909.5,605.5 917.5,617.5 925.5,617.5 933.5,615.5 941.5,619.5 949.5,619.5 957.5,631.5 965.5,617.5 973.5,614.5 981.5,616.5 989.5,617.5 997.5,618.5 1005.5,619.5 1013.5,622.5 1021.5,625.5 1029.5,623.5 1037.5,622.5 1045.5,616.5 1053.5,610.5 1061.5,613.5 1069.5,609.5 1077.5,607.5 1085.5,608.5 1093.5,608.5 1101.5,604.5 1109.5,616.5 1117.5,612.5 1125.5,610.5 1133.5,610.5 1141.5,612.5 1149.5,608.5 1157.5,605.5 1165.5,606.5 1173.5,608.5" fill="none" stroke="#1E90FF" stroke-width="1"/>
</g>
<g shape-rendering="crispEdges" fill="none" stroke="#000" stroke-width="1">
<rect x="4.5" y="7.5" width="1188" height="461"/>
<rect x="4.5" y="470.5" width="1188" height="98"/>
<rect x="4.5" y="570.5" width="1188" height="102"/>
</g>
<g shape-rendering="crispEdges" fill="#000">
<rect x="1193" y="36" width="2" height="1"/>
<rect x="1193" y="69" width="2" height="1"/>
<rect x="1193" y="102" width="2" height="1"/>
<rect x="1193" y="135" width="2" height="1"/>
<rect x="1193" y="168" width="2" height="1"/>
<rect x="1193" y="201" width="2" height="1"/>
<rect x="1193" y="234" width="2" height="1"/>
<rect x="1193" y="267" width="2" height="1"/>
<rect x="1193" y="300" width="2" height="1"/>
<rect x="1193" y="333" width="2" height="1"/>
<rect x="1193" y="366" width="2" height="1"/>
<rect x="1193" y="399" width="2" height="1"/>
<rect x="1193" y="432" width="2" height="1"/>
<rect x="1193" y="465" width="2" height="1"/>
<rect x="1193" y="473" width="2" height="1"/>
<rect x="1193" y="521" width="2" height="1"/>
<rect x="1193" y="566" width="2" height="1"/>
<rect x="1193" y="571" width="2" height="1"/>
<rect x="1193" y="671" width="2" height="1"/>
<rect x="5" y="673" width="1" height="3"/>
<rect x="69" y="673" width="1" height="3"/>
<rect x="133" y="673" width="1" height="3"/>
<rect x="197" y="673" width="1" height="3"/>
<rect x="261" y="673" width="1" height="3"/>
<rect x="325" y="673" width="1" height="3"/>
<rect x="389" y="673" width="1" height="3"/>
<rect x="453" y="673" width="1" height="3"/>
<rect x="517" y="673" width="1" height="3"/>
<rect x="581" y="673" width="1" height="3"/>
<rect x="645" y="673" width="1" height="3"/>
<rect x="709" y="673" width="1" height="3"/>
<rect x="773" y="673" width="1" height="3"/>
<rect x="837" y="673" width="1" height="3"/>
<rect x="901" y="673" width="1" height="3"/>
<rect x="965" y="673" width="1" height="3"/>
<rect x="1029" y="673" width="1" height="3"/>
<rect x="1093" y="673" width="1" height="3"/>
<rect x="1157" y="673" width="1" height="3"/>
</g>
<g fill="#000" font-size="9.9px" stroke="#000" stroke-width="0.2">
<text x="1198.7" y="40" textLength="31.5" lengthAdjust="spacingAndGlyphs">111.040</text>
<text x="1198.7" y="73" textLength="31.5" lengthAdjust="spacingAndGlyphs">109.640</text>
<text x="1198.7" y="106" textLength="31.5" lengthAdjust="spacingAndGlyphs">108.200</text>
<text x="1198.7" y="139" textLength="31.5" lengthAdjust="spacingAndGlyphs">106.800</text>
<text x="1198.7" y="172" textLength="31.5" lengthAdjust="spacingAndGlyphs">105.360</text>
<text x="1198.7" y="205" textLength="31.5" lengthAdjust="spacingAndGlyphs">103.920</text>
<text x="1198.7" y="238" textLength="31.5" lengthAdjust="spacingAndGlyphs">102.520</text>
<text x="1198.7" y="271" textLength="31.5" lengthAdjust="spacingAndGlyphs">101.080</text>
<text x="1198.7" y="304" textLength="27" lengthAdjust="spacingAndGlyphs">99.680</text>
<text x="1198.7" y="337" textLength="27" lengthAdjust="spacingAndGlyphs">98.240</text>
<text x="1198.7" y="370" textLength="27" lengthAdjust="spacingAndGlyphs">96.800</text>
<text x="1198.7" y="403" textLength="27" lengthAdjust="spacingAndGlyphs">95.400</text>
<text x="1198.7" y="436" textLength="27" lengthAdjust="spacingAndGlyphs">93.960</text>
<text x="1198.7" y="469" textLength="27" lengthAdjust="spacingAndGlyphs">92.560</text>
<text x="1196.5" y="481.5" textLength="29" lengthAdjust="spacingAndGlyphs">2.5364</text>
<text x="1196.5" y="525" textLength="18" lengthAdjust="spacingAndGlyphs">0.00</text>
<text x="1196.5" y="565.5" textLength="32" lengthAdjust="spacingAndGlyphs">-2.3798</text>
<text x="1195.7" y="581" textLength="15" lengthAdjust="spacingAndGlyphs">100</text>
<text x="1195.7" y="605.1" textLength="10" lengthAdjust="spacingAndGlyphs">70</text>
<text x="1195.7" y="644.9" textLength="10" lengthAdjust="spacingAndGlyphs">30</text>
<text x="1195.7" y="669" textLength="5" lengthAdjust="spacingAndGlyphs">0</text>
<text x="8.7" y="482.8" textLength="128" lengthAdjust="spacingAndGlyphs">MACD(12,26,9) 1.5358 1.3589</text>
<text x="8.7" y="582.8" textLength="68" lengthAdjust="spacingAndGlyphs">RSI(14) 63.6485</text>
<text x="4.0" y="684.8" textLength="45" lengthAdjust="spacingAndGlyphs">4 Apr 2022</text>
<text x="68.0" y="684.8" textLength="48.5" lengthAdjust="spacingAndGlyphs">5 Apr 12:00</text>
<text x="132.0" y="684.8" textLength="48.5" lengthAdjust="spacingAndGlyphs">6 Apr 20:00</text>
<text x="196.0" y="684.8" textLength="48.5" lengthAdjust="spacingAndGlyphs">8 Apr 04:00</text>
<text x="260.0" y="684.8" textLength="53.5" lengthAdjust="spacingAndGlyphs">11 Apr 08:00</text>
<text x="324.0" y="684.8" textLength="53.5" lengthAdjust="spacingAndGlyphs">12 Apr 16:00</text>
<text x="388.0" y="684.8" textLength="53.5" lengthAdjust="spacingAndGlyphs">14 Apr 00:00</text>
<text x="452.0" y="684.8" textLength="53.5" lengthAdjust="spacingAndGlyphs">18 Apr 04:00</text>
<text x="516.0" y="684.8" textLength="53.5" lengthAdjust="spacingAndGlyphs">19 Apr 12:00</text>
<text x="580.0" y="684.8" textLength="53.5" lengthAdjust="spacingAndGlyphs">20 Apr 20:00</text>
<text x="644.0" y="684.8" textLength="53.5" lengthAdjust="spacingAndGlyphs">22 Apr 04:00</text>
<text x="708.0" y="684.8" textLength="53.5" lengthAdjust="spacingAndGlyphs">25 Apr 08:00</text>
<text x="772.0" y="684.8" textLength="53.5" lengthAdjust="spacingAndGlyphs">26 Apr 16:00</text>
<text x="836.0" y="684.8" textLength="53.5" lengthAdjust="spacingAndGlyphs">28 Apr 00:00</text>
<text x="900.0" y="684.8" textLength="53.5" lengthAdjust="spacingAndGlyphs">29 Apr 08:00</text>
<text x="964.0" y="684.8" textLength="52" lengthAdjust="spacingAndGlyphs">2 May 12:00</text>
<text x="1028.0" y="684.8" textLength="52" lengthAdjust="spacingAndGlyphs">3 May 20:00</text>
<text x="1092.0" y="684.8" textLength="52" lengthAdjust="spacingAndGlyphs">5 May 04:00</text>
<text x="1156.0" y="684.8" textLength="52" lengthAdjust="spacingAndGlyphs">6 May 12:00</text>
</g>
<g shape-rendering="crispEdges">
<rect x="1195" y="8" width="39" height="11" fill="#FF0000"/>
<rect x="1195" y="51" width="39" height="11" fill="#000"/>
<rect x="1195" y="101" width="39" height="11" fill="#00C800"/>
<rect x="1195" y="205" width="39" height="11" fill="#3350DE"/>
<rect x="1195" y="286" width="39" height="11" fill="#3350DE"/>
</g>
<g fill="#fff" font-size="9.9px" stroke="#fff" stroke-width="0.2">
<text x="1198.7" y="17" textLength="31.5" lengthAdjust="spacingAndGlyphs">112.000</text>
<text x="1198.7" y="60" textLength="31.5" lengthAdjust="spacingAndGlyphs">110.188</text>
<text x="1198.7" y="110" textLength="31.5" lengthAdjust="spacingAndGlyphs">108.000</text>
<text x="1198.7" y="214" textLength="31.5" lengthAdjust="spacingAndGlyphs">103.500</text>
<text x="1198.7" y="295" textLength="31.5" lengthAdjust="spacingAndGlyphs">100.000</text>
</g>
<g fill="none" stroke="#FF0000" stroke-width="27" stroke-linecap="butt" stroke-linejoin="round">
<g transform="translate(875,370) scale(0.08873)">
<path d="M215 85 L60 170"/>
<path d="M130 128 L320 128 Q270 215 85 255"/>
<path d="M140 180 L195 225"/>
<path d="M290 240 L95 325"/>
<path d="M235 270 L368 270 Q300 400 55 430"/>
<path d="M180 340 L225 380"/>
<path d="M595 82 L600 130"/>
<path d="M445 195 L445 130 L765 130 L760 195"/>
<path d="M560 180 L455 245"/>
<path d="M635 180 L745 250"/>
<path d="M470 295 L740 295"/>
<path d="M603 295 L603 415"/>
<path d="M435 415 L775 415"/>
</g>
<g transform="translate(940,370) scale(0.08873)">
<path d="M85 155 L230 155"/>
<path d="M150 85 L100 265 L235 265"/>
<path d="M178 195 L178 440"/>
<path d="M85 360 L240 330"/>
<path d="M250 150 L435 150"/>
<path d="M245 225 L445 225"/>
<path d="M340 85 L295 300 L428 300 L345 372"/>
<path d="M280 355 L405 430"/>
<path d="M488 170 L615 170"/>
<path d="M555 85 L555 428 L495 425"/>
<path d="M488 300 L620 250"/>
<path d="M815 95 Q740 120 655 130"/>
<path d="M655 125 L655 260 Q650 370 605 435"/>
<path d="M655 220 L835 220"/>
<path d="M765 220 L765 445"/>
<path d="M1045 85 L1045 215"/>
<path d="M1045 135 L1215 135"/>
<path d="M935 215 L1175 215 L1175 310 L935 310 Z"/>
<path d="M930 350 L885 435"/>
<path d="M1000 355 L1015 440"/>
<path d="M1085 355 L1110 440"/>
<path d="M1170 350 L1220 435"/>
</g>
</g>
<g transform="translate(1010,370) scale(0.08873)" fill="none" stroke="#FF0000" stroke-width="32">
<path d="M562 405 L562 122"/>
<path d="M568 135 L482 190" stroke-width="30"/>
<ellipse cx="737.5" cy="264" rx="81.5" ry="130"/>
<ellipse cx="977.5" cy="191.5" rx="68.5" ry="57.5"/>
<ellipse cx="977.5" cy="327.5" rx="81.5" ry="66.5"/>
</g>
</svg></body></html>
